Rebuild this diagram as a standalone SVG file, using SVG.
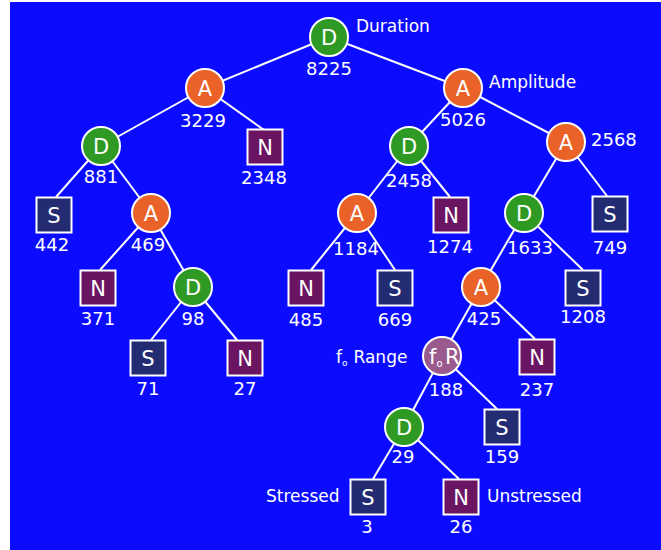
<svg xmlns="http://www.w3.org/2000/svg" width="661" height="550" viewBox="0 0 661 550">
  <style>
    text { font-family: "DejaVu Sans", "Liberation Sans", sans-serif; fill: #ffffff; }
    .num { font-size: 18px; text-anchor: middle; }
    .lbl { font-size: 17px; }
    .sym { font-size: 21px; text-anchor: middle; }
    .edge { stroke: #ffffff; stroke-width: 2; fill: none; }
    .node { stroke: #ffffff; stroke-width: 2; }
    .dur { fill: #2e9a24; }
    .amp { fill: #eb6228; }
    .rng { fill: #9a5a8e; }
    .sq-s { fill: #232c72; }
    .sq-n { fill: #6a1462; }
  </style>

  <rect x="10" y="2" width="651" height="548" fill="#0b0bff"/>

  <g id="connectors">
    <line class="edge" x1="329" y1="37" x2="205" y2="88"/>
    <line class="edge" x1="329" y1="37" x2="463" y2="88"/>
    <line class="edge" x1="205" y1="88" x2="101" y2="146"/>
    <line class="edge" x1="205" y1="88" x2="264" y2="130"/>
    <line class="edge" x1="101" y1="146" x2="56" y2="197"/>
    <line class="edge" x1="101" y1="146" x2="151" y2="213"/>
    <line class="edge" x1="151" y1="213" x2="100" y2="270"/>
    <line class="edge" x1="151" y1="213" x2="193" y2="287"/>
    <line class="edge" x1="193" y1="287" x2="151" y2="340"/>
    <line class="edge" x1="193" y1="287" x2="237" y2="340"/>
    <line class="edge" x1="463" y1="88" x2="409" y2="146"/>
    <line class="edge" x1="463" y1="88" x2="566" y2="142"/>
    <line class="edge" x1="409" y1="146" x2="357" y2="213"/>
    <line class="edge" x1="409" y1="146" x2="450" y2="197"/>
    <line class="edge" x1="357" y1="213" x2="311" y2="270"/>
    <line class="edge" x1="357" y1="213" x2="395" y2="270"/>
    <line class="edge" x1="566" y1="142" x2="524" y2="213"/>
    <line class="edge" x1="566" y1="142" x2="607" y2="196"/>
    <line class="edge" x1="524" y1="213" x2="481" y2="287"/>
    <line class="edge" x1="524" y1="213" x2="583" y2="270"/>
    <line class="edge" x1="481" y1="287" x2="442" y2="356"/>
    <line class="edge" x1="481" y1="287" x2="535" y2="339"/>
    <line class="edge" x1="442" y1="356" x2="404" y2="427"/>
    <line class="edge" x1="442" y1="356" x2="497" y2="409"/>
    <line class="edge" x1="404" y1="427" x2="373" y2="479"/>
    <line class="edge" x1="404" y1="427" x2="459" y2="479"/>
  </g>

  <!-- root: duration split -->
  <g id="n-root">
    <circle class="node dur" cx="329" cy="37" r="19"/>
    <text class="sym" x="329" y="44.5">D</text>
    <text class="num" x="329" y="75">8225</text>
    <text class="lbl" x="356" y="32">Duration</text>
  </g>

  <g id="n-a3229">
    <circle class="node amp" cx="205" cy="88" r="19"/>
    <text class="sym" x="205" y="95.5">A</text>
    <text class="num" x="203" y="127">3229</text>
  </g>

  <g id="n-a5026">
    <circle class="node amp" cx="463" cy="88" r="19"/>
    <text class="sym" x="463" y="95.5">A</text>
    <text class="num" x="463" y="126">5026</text>
    <text class="lbl" x="489" y="88">Amplitude</text>
  </g>

  <g id="n-d881">
    <circle class="node dur" cx="101" cy="146" r="19"/>
    <text class="sym" x="101" y="153.5">D</text>
    <text class="num" x="101" y="183">881</text>
  </g>

  <g id="n-n2348">
    <rect class="node sq-n" x="247.5" y="129.5" width="35" height="35"/>
    <text class="sym" x="265" y="154.5">N</text>
    <text class="num" x="264" y="184">2348</text>
  </g>

  <g id="n-d2458">
    <circle class="node dur" cx="409" cy="146" r="19"/>
    <text class="sym" x="409" y="153.5">D</text>
    <text class="num" x="409" y="187">2458</text>
  </g>

  <g id="n-a2568">
    <circle class="node amp" cx="566" cy="142" r="19"/>
    <text class="sym" x="566" y="149.5">A</text>
    <text class="num" x="591" y="146" style="text-anchor:start">2568</text>
  </g>

  <g id="n-s442">
    <rect class="node sq-s" x="36.5" y="197.5" width="35" height="35"/>
    <text class="sym" x="54" y="222.5">S</text>
    <text class="num" x="52" y="251">442</text>
  </g>

  <g id="n-a469">
    <circle class="node amp" cx="151" cy="213" r="19"/>
    <text class="sym" x="151" y="220.5">A</text>
    <text class="num" x="148" y="251">469</text>
  </g>

  <g id="n-a1184">
    <circle class="node amp" cx="357" cy="213" r="19"/>
    <text class="sym" x="357" y="220.5">A</text>
    <text class="num" x="356" y="255">1184</text>
  </g>

  <g id="n-n1274">
    <rect class="node sq-n" x="433.5" y="197.5" width="35" height="35"/>
    <text class="sym" x="451" y="222.5">N</text>
    <text class="num" x="450" y="253">1274</text>
  </g>

  <g id="n-d1633">
    <circle class="node dur" cx="524" cy="213" r="19"/>
    <text class="sym" x="524" y="220.5">D</text>
    <text class="num" x="530" y="254">1633</text>
  </g>

  <g id="n-s749">
    <rect class="node sq-s" x="592.5" y="196.5" width="35" height="35"/>
    <text class="sym" x="610" y="221.5">S</text>
    <text class="num" x="610" y="254">749</text>
  </g>

  <g id="n-n371">
    <rect class="node sq-n" x="80.5" y="270.5" width="35" height="35"/>
    <text class="sym" x="98" y="295.5">N</text>
    <text class="num" x="98" y="325">371</text>
  </g>

  <g id="n-d98">
    <circle class="node dur" cx="193" cy="287" r="19"/>
    <text class="sym" x="193" y="294.5">D</text>
    <text class="num" x="193" y="325">98</text>
  </g>

  <g id="n-n485">
    <rect class="node sq-n" x="288.5" y="270.5" width="35" height="35"/>
    <text class="sym" x="306" y="295.5">N</text>
    <text class="num" x="306" y="326">485</text>
  </g>

  <g id="n-s669">
    <rect class="node sq-s" x="377.5" y="270.5" width="35" height="35"/>
    <text class="sym" x="395" y="295.5">S</text>
    <text class="num" x="395" y="326">669</text>
  </g>

  <g id="n-a425">
    <circle class="node amp" cx="481" cy="287" r="19"/>
    <text class="sym" x="481" y="294.5">A</text>
    <text class="num" x="484" y="325">425</text>
  </g>

  <g id="n-s1208">
    <rect class="node sq-s" x="565.5" y="270.5" width="35" height="35"/>
    <text class="sym" x="583" y="295.5">S</text>
    <text class="num" x="583" y="323">1208</text>
  </g>

  <g id="n-s71">
    <rect class="node sq-s" x="130.5" y="340.5" width="35" height="35"/>
    <text class="sym" x="148" y="365.5">S</text>
    <text class="num" x="148" y="395">71</text>
  </g>

  <g id="n-n27">
    <rect class="node sq-n" x="227.5" y="340.5" width="35" height="35"/>
    <text class="sym" x="245" y="365.5">N</text>
    <text class="num" x="245" y="395">27</text>
  </g>

  <!-- pitch range split -->
  <g id="n-range">
    <circle class="node rng" cx="442" cy="356" r="19"/>
    <text class="sym" x="429" y="363.5" style="text-anchor:start">f<tspan font-size="10" dy="3">o</tspan><tspan dy="-3" dx="2.5">R</tspan></text>
    <text class="num" x="446" y="396">188</text>
    <text class="lbl" x="336" y="363">f<tspan font-size="9" dy="3">o</tspan><tspan dy="-3" dx="6">Range</tspan></text>
  </g>

  <g id="n-n237">
    <rect class="node sq-n" x="519.5" y="339.5" width="35" height="35"/>
    <text class="sym" x="537" y="364.5">N</text>
    <text class="num" x="537" y="396">237</text>
  </g>

  <g id="n-d29">
    <circle class="node dur" cx="404" cy="427" r="19"/>
    <text class="sym" x="404" y="434.5">D</text>
    <text class="num" x="403" y="463">29</text>
  </g>

  <g id="n-s159">
    <rect class="node sq-s" x="484.5" y="409.5" width="35" height="35"/>
    <text class="sym" x="502" y="434.5">S</text>
    <text class="num" x="502" y="463">159</text>
  </g>

  <g id="n-s3">
    <rect class="node sq-s" x="350.5" y="479.5" width="35" height="35"/>
    <text class="sym" x="368" y="504.5">S</text>
    <text class="num" x="367" y="533">3</text>
    <text class="lbl" x="266" y="502">Stressed</text>
  </g>

  <g id="n-n26">
    <rect class="node sq-n" x="443.5" y="479.5" width="35" height="35"/>
    <text class="sym" x="461" y="504.5">N</text>
    <text class="num" x="461" y="533">26</text>
    <text class="lbl" x="487" y="502">Unstressed</text>
  </g>
</svg>
